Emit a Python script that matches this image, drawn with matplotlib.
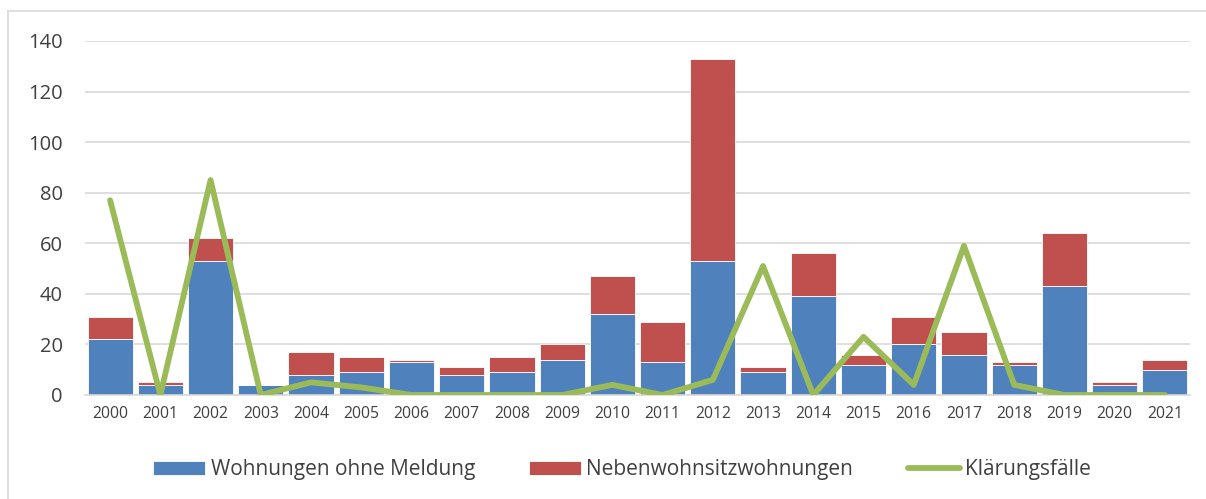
import matplotlib.pyplot as plt
from matplotlib.lines import Line2D
import numpy as np

years = [str(y) for y in range(2000, 2022)]
ohne_meldung = [22, 4, 53, 4, 8, 9, 13, 8, 9, 14, 32, 13, 53, 9, 39, 12, 20, 16, 12, 43, 4, 10]
nebenwohnsitz = [9, 1, 9, 0, 9, 6, 1, 3, 6, 6, 15, 16, 80, 2, 17, 4, 11, 9, 1, 21, 1, 4]
klaerung = [77, 0, 85, 0, 5, 3, 0, 0, 0, 0, 4, 0, 6, 51, 0, 23, 4, 59, 4, 0, 0, 0]

plt.rcParams['font.family'] = ['Open Sans', 'DejaVu Sans']

W, H = 1206, 499
fig = plt.figure(figsize=(W / 100, H / 100), dpi=100)
ax = fig.add_axes([85 / W, 1 - 395 / H, (1190 - 85) / W, (395 - 41) / H])

x = np.arange(len(years))
b1 = ax.bar(x, ohne_meldung, width=0.9, color='#4F81BD', edgecolor='white', linewidth=0.6,
            label='Wohnungen ohne Meldung', zorder=2)
b2 = ax.bar(x, nebenwohnsitz, width=0.9, bottom=ohne_meldung, color='#C0504D', edgecolor='white',
            linewidth=0.6, label='Nebenwohnsitzwohnungen', zorder=2)
ln, = ax.plot(x, klaerung, color='#9BBB59', linewidth=4.2, solid_capstyle='round',
              label='Klärungsfälle', zorder=3)

ax.set_xlim(-0.5, len(years) - 0.5)
ax.set_ylim(0, 140)
ax.set_yticks(range(0, 141, 20))
ax.set_xticks(x)
ax.set_xticklabels(years)
ax.yaxis.grid(True, color='#D9D9D9', linewidth=1.2, zorder=0)
ax.set_axisbelow(True)
for s in ['top', 'right', 'left']:
    ax.spines[s].set_visible(False)
ax.spines['bottom'].set_color('#D9D9D9')
ax.spines['bottom'].set_linewidth(1.2)
ax.tick_params(axis='y', length=0, labelsize=14.5, labelcolor='#404040', pad=16)
ax.tick_params(axis='x', length=0, labelsize=11.3, labelcolor='#404040', pad=8)

fig.legend(handles=[b1, b2, ln], loc='center', bbox_to_anchor=(622 / W, 1 - 470 / H), ncol=3,
           frameon=False, fontsize=15, handlelength=2.5, handleheight=0.63, handletextpad=0.25,
           columnspacing=2.6, labelcolor='#404040')

# chart frame (left and top edges visible)
fig.lines.append(Line2D([8 / W, 8 / W], [0, 1 - 11 / H], transform=fig.transFigure,
                        color='#D9D9D9', linewidth=1.2))
fig.lines.append(Line2D([8 / W, 1], [1 - 11 / H, 1 - 11 / H], transform=fig.transFigure,
                        color='#D9D9D9', linewidth=1.2))

fig.savefig('out.png', dpi=100)
